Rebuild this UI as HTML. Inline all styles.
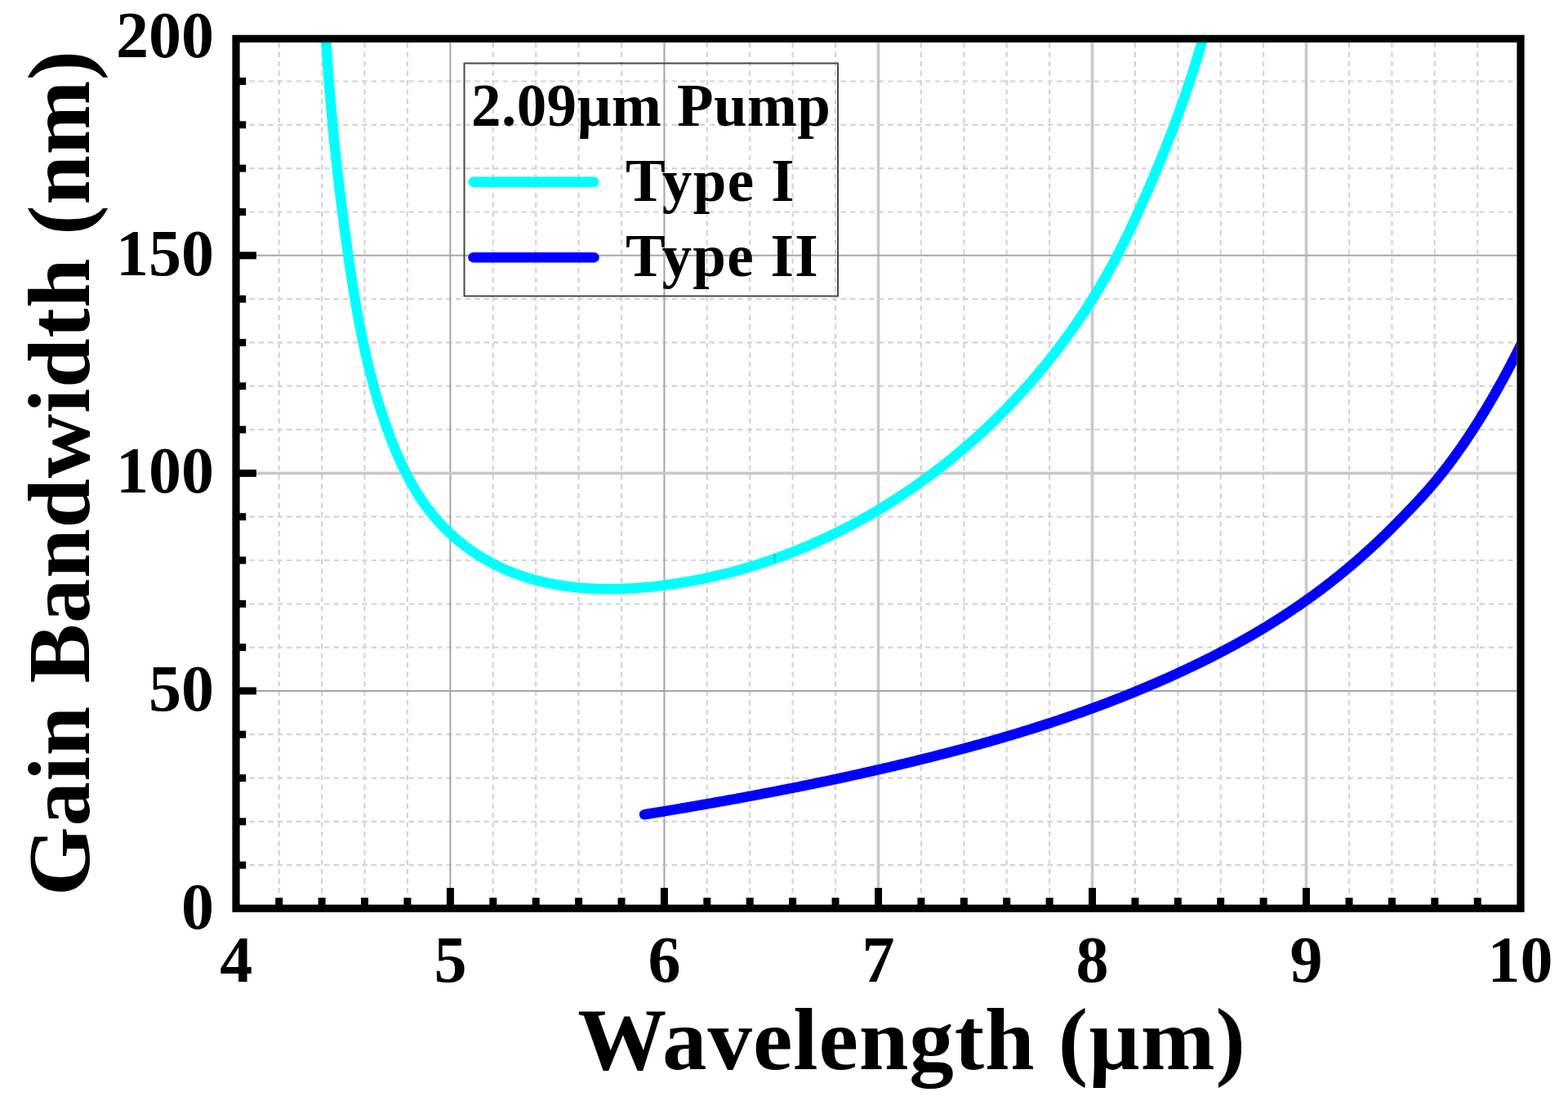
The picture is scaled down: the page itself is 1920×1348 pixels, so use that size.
<!DOCTYPE html>
<html><head><meta charset="utf-8"><style>
html,body{margin:0;padding:0;background:#fff;}
body{width:1920px;height:1348px;overflow:hidden;}
svg{display:block;}
text{font-family:"Liberation Serif","Times New Roman",serif;font-weight:bold;fill:#000;}
</style></head><body>
<svg width="1920" height="1348" viewBox="0 0 1920 1348">
<defs><clipPath id="pa"><rect x="293.6" y="52.0" width="1563.8" height="1055.6"/></clipPath></defs>
<rect width="1920" height="1348" fill="#fff"/>
<g stroke="#d4d4d4" stroke-width="2.2" stroke-dasharray="6.5 5">
<line x1="341.7" y1="52.0" x2="341.7" y2="1107.6"/>
<line x1="394.1" y1="52.0" x2="394.1" y2="1107.6"/>
<line x1="446.5" y1="52.0" x2="446.5" y2="1107.6"/>
<line x1="498.9" y1="52.0" x2="498.9" y2="1107.6"/>
<line x1="603.8" y1="52.0" x2="603.8" y2="1107.6"/>
<line x1="656.2" y1="52.0" x2="656.2" y2="1107.6"/>
<line x1="708.6" y1="52.0" x2="708.6" y2="1107.6"/>
<line x1="761.0" y1="52.0" x2="761.0" y2="1107.6"/>
<line x1="865.8" y1="52.0" x2="865.8" y2="1107.6"/>
<line x1="918.2" y1="52.0" x2="918.2" y2="1107.6"/>
<line x1="970.6" y1="52.0" x2="970.6" y2="1107.6"/>
<line x1="1023.0" y1="52.0" x2="1023.0" y2="1107.6"/>
<line x1="1127.9" y1="52.0" x2="1127.9" y2="1107.6"/>
<line x1="1180.3" y1="52.0" x2="1180.3" y2="1107.6"/>
<line x1="1232.7" y1="52.0" x2="1232.7" y2="1107.6"/>
<line x1="1285.1" y1="52.0" x2="1285.1" y2="1107.6"/>
<line x1="1389.9" y1="52.0" x2="1389.9" y2="1107.6"/>
<line x1="1442.3" y1="52.0" x2="1442.3" y2="1107.6"/>
<line x1="1494.7" y1="52.0" x2="1494.7" y2="1107.6"/>
<line x1="1547.1" y1="52.0" x2="1547.1" y2="1107.6"/>
<line x1="1652.0" y1="52.0" x2="1652.0" y2="1107.6"/>
<line x1="1704.4" y1="52.0" x2="1704.4" y2="1107.6"/>
<line x1="1756.8" y1="52.0" x2="1756.8" y2="1107.6"/>
<line x1="1809.2" y1="52.0" x2="1809.2" y2="1107.6"/>
<line x1="293.6" y1="1059.2" x2="1857.4" y2="1059.2"/>
<line x1="293.6" y1="1005.9" x2="1857.4" y2="1005.9"/>
<line x1="293.6" y1="952.6" x2="1857.4" y2="952.6"/>
<line x1="293.6" y1="899.2" x2="1857.4" y2="899.2"/>
<line x1="293.6" y1="792.6" x2="1857.4" y2="792.6"/>
<line x1="293.6" y1="739.3" x2="1857.4" y2="739.3"/>
<line x1="293.6" y1="686.0" x2="1857.4" y2="686.0"/>
<line x1="293.6" y1="632.7" x2="1857.4" y2="632.7"/>
<line x1="293.6" y1="526.0" x2="1857.4" y2="526.0"/>
<line x1="293.6" y1="472.7" x2="1857.4" y2="472.7"/>
<line x1="293.6" y1="419.4" x2="1857.4" y2="419.4"/>
<line x1="293.6" y1="366.1" x2="1857.4" y2="366.1"/>
<line x1="293.6" y1="259.5" x2="1857.4" y2="259.5"/>
<line x1="293.6" y1="206.1" x2="1857.4" y2="206.1"/>
<line x1="293.6" y1="152.8" x2="1857.4" y2="152.8"/>
<line x1="293.6" y1="99.5" x2="1857.4" y2="99.5"/>
</g>
<g>
<line x1="551.4" y1="52.0" x2="551.4" y2="1107.6" stroke="#a6a6a6" stroke-width="2"/>
<line x1="813.4" y1="52.0" x2="813.4" y2="1107.6" stroke="#a6a6a6" stroke-width="2"/>
<line x1="1075.5" y1="52.0" x2="1075.5" y2="1107.6" stroke="#c9c9c9" stroke-width="3.6"/>
<line x1="1337.5" y1="52.0" x2="1337.5" y2="1107.6" stroke="#c9c9c9" stroke-width="3.6"/>
<line x1="1599.5" y1="52.0" x2="1599.5" y2="1107.6" stroke="#c9c9c9" stroke-width="3.6"/>
<line x1="293.6" y1="845.9" x2="1857.4" y2="845.9" stroke="#a6a6a6" stroke-width="2"/>
<line x1="293.6" y1="579.4" x2="1857.4" y2="579.4" stroke="#c9c9c9" stroke-width="3.6"/>
<line x1="293.6" y1="312.8" x2="1857.4" y2="312.8" stroke="#a6a6a6" stroke-width="2"/>
</g>
<g clip-path="url(#pa)" fill="none" stroke-linejoin="round" stroke-linecap="round">
<path d="M397.1,10.0 L397.2,12.2 L397.3,14.4 L397.4,16.6 L397.5,18.8 L397.6,21.0 L397.7,23.3 L397.9,25.5 L398.0,27.7 L398.1,29.9 L398.2,32.1 L398.4,34.3 L398.5,36.5 L398.6,38.7 L398.7,40.9 L398.9,43.1 L399.0,45.3 L399.1,47.6 L399.3,49.8 L399.4,52.0 L399.6,54.2 L399.7,56.4 L399.8,58.6 L400.0,60.8 L400.1,63.0 L400.3,65.2 L400.4,67.4 L400.6,69.6 L400.7,71.9 L400.9,74.1 L401.0,76.3 L401.2,78.5 L401.3,80.7 L401.5,82.9 L401.7,85.1 L401.8,87.3 L402.0,89.5 L402.2,91.7 L402.3,93.9 L402.5,96.1 L402.7,98.3 L402.8,100.5 L403.0,102.7 L403.2,105.0 L403.4,107.2 L403.5,109.4 L403.7,111.6 L403.9,113.8 L404.1,116.0 L404.3,118.2 L404.4,120.4 L404.6,122.6 L404.8,124.8 L405.0,127.0 L405.2,129.2 L405.4,131.4 L405.6,133.6 L405.8,135.8 L406.0,138.0 L406.2,140.2 L406.4,142.4 L406.6,144.6 L406.8,146.8 L407.0,149.0 L407.2,151.2 L407.4,153.4 L407.6,155.6 L407.8,157.9 L408.0,160.1 L408.3,162.3 L408.5,164.5 L408.7,166.7 L408.9,168.9 L409.1,171.1 L409.3,173.3 L409.6,175.5 L409.8,177.7 L410.0,179.9 L410.2,182.1 L410.5,184.3 L410.7,186.5 L410.9,188.7 L411.2,190.9 L411.4,193.1 L411.6,195.3 L411.9,197.5 L412.1,199.7 L412.4,201.9 L412.6,204.1 L412.8,206.3 L413.1,208.5 L413.3,210.7 L413.6,212.9 L413.8,215.1 L414.1,217.3 L414.3,219.5 L414.6,221.7 L414.8,223.9 L415.1,226.0 L415.4,228.2 L415.6,230.4 L415.9,232.6 L416.1,234.8 L416.4,237.0 L416.7,239.2 L416.9,241.4 L417.2,243.6 L417.5,245.8 L417.7,248.0 L418.0,250.2 L418.3,252.4 L418.6,254.6 L418.8,256.8 L419.1,259.0 L419.4,261.2 L419.7,263.4 L420.0,265.6 L420.3,267.8 L420.5,270.0 L420.8,272.2 L421.1,274.3 L421.4,276.5 L421.7,278.7 L422.0,280.9 L422.3,283.1 L422.6,285.3 L422.9,287.5 L423.2,289.7 L423.5,291.9 L423.8,294.1 L424.1,296.3 L424.4,298.5 L424.7,300.6 L425.0,302.8 L425.3,305.0 L425.6,307.2 L425.9,309.4 L426.2,311.6 L426.6,313.8 L426.9,316.0 L427.2,318.2 L427.5,320.4 L427.8,322.5 L428.1,324.7 L428.5,326.9 L428.8,329.1 L429.1,331.3 L429.5,333.5 L429.8,335.7 L430.1,337.9 L430.5,340.0 L430.8,342.2 L431.1,344.4 L431.5,346.6 L431.8,348.8 L432.2,351.0 L432.5,353.2 L432.9,355.3 L433.2,357.5 L433.6,359.7 L433.9,361.9 L434.3,364.1 L434.7,366.2 L435.0,368.4 L435.4,370.6 L435.8,372.8 L436.2,375.0 L436.5,377.1 L436.9,379.3 L437.3,381.5 L437.7,383.7 L438.1,385.8 L438.5,388.0 L438.9,390.2 L439.3,392.4 L439.7,394.5 L440.1,396.7 L440.5,398.9 L441.0,401.0 L441.4,403.2 L441.8,405.4 L442.3,407.5 L442.7,409.7 L443.1,411.9 L443.6,414.0 L444.0,416.2 L444.5,418.4 L444.9,420.5 L445.4,422.7 L445.9,424.8 L446.3,427.0 L446.8,429.2 L447.3,431.3 L447.8,433.5 L448.3,435.6 L448.8,437.8 L449.3,439.9 L449.8,442.1 L450.3,444.2 L450.8,446.4 L451.3,448.5 L451.8,450.7 L452.4,452.8 L452.9,455.0 L453.5,457.1 L454.0,459.2 L454.6,461.4 L455.1,463.5 L455.7,465.7 L456.3,467.8 L456.8,469.9 L457.4,472.1 L458.0,474.2 L458.6,476.3 L459.2,478.5 L459.8,480.6 L460.4,482.7 L461.0,484.8 L461.7,487.0 L462.3,489.1 L462.9,491.2 L463.6,493.3 L464.2,495.4 L464.9,497.6 L465.5,499.7 L466.2,501.8 L466.9,503.9 L467.6,506.0 L468.3,508.1 L469.0,510.2 L469.7,512.3 L470.4,514.4 L471.1,516.5 L471.8,518.6 L472.6,520.7 L473.3,522.8 L474.1,524.9 L474.8,527.0 L475.6,529.1 L476.4,531.2 L477.1,533.3 L477.9,535.4 L478.7,537.5 L479.5,539.5 L480.3,541.6 L481.2,543.7 L482.0,545.8 L482.8,547.8 L483.7,549.9 L484.5,551.9 L485.4,554.0 L486.3,556.0 L487.2,558.1 L488.1,560.1 L489.0,562.2 L489.9,564.2 L490.8,566.2 L491.8,568.2 L492.7,570.3 L493.7,572.3 L494.7,574.3 L495.6,576.3 L496.6,578.2 L497.6,580.2 L498.7,582.2 L499.7,584.2 L500.7,586.1 L501.8,588.1 L502.9,590.0 L503.9,591.9 L505.0,593.9 L506.1,595.8 L507.3,597.7 L508.4,599.6 L509.5,601.5 L510.7,603.4 L511.9,605.2 L513.1,607.1 L514.3,609.0 L515.5,610.8 L516.7,612.6 L518.0,614.4 L519.2,616.3 L520.5,618.1 L521.8,619.8 L523.1,621.6 L524.4,623.4 L525.7,625.1 L527.1,626.9 L528.4,628.6 L529.8,630.3 L531.2,632.0 L532.6,633.7 L534.1,635.4 L535.5,637.1 L537.0,638.7 L538.5,640.3 L540.0,642.0 L541.5,643.6 L543.0,645.2 L544.6,646.7 L546.1,648.3 L547.7,649.9 L549.3,651.4 L550.9,652.9 L552.6,654.4 L554.2,655.9 L555.9,657.4 L557.5,658.9 L559.2,660.3 L560.9,661.7 L562.6,663.1 L564.4,664.5 L566.1,665.9 L567.9,667.3 L569.6,668.6 L571.4,670.0 L573.2,671.3 L575.0,672.6 L576.8,673.9 L578.6,675.1 L580.5,676.4 L582.3,677.6 L584.2,678.8 L586.1,680.0 L587.9,681.2 L589.8,682.3 L591.7,683.5 L593.6,684.6 L595.5,685.7 L597.5,686.8 L599.4,687.8 L601.3,688.9 L603.3,689.9 L605.2,690.9 L607.2,691.9 L609.2,692.9 L611.1,693.8 L613.1,694.8 L615.1,695.7 L617.1,696.6 L619.1,697.5 L621.1,698.3 L623.1,699.2 L625.2,700.0 L627.2,700.8 L629.2,701.6 L631.3,702.4 L633.3,703.1 L635.4,703.8 L637.4,704.6 L639.5,705.3 L641.6,706.0 L643.6,706.6 L645.7,707.3 L647.8,707.9 L649.9,708.5 L652.0,709.1 L654.1,709.7 L656.2,710.3 L658.3,710.8 L660.4,711.4 L662.5,711.9 L664.7,712.4 L666.8,712.9 L668.9,713.4 L671.1,713.8 L673.2,714.3 L675.4,714.7 L677.5,715.1 L679.7,715.5 L681.8,715.9 L684.0,716.3 L686.2,716.6 L688.3,716.9 L690.5,717.3 L692.7,717.6 L694.9,717.9 L697.0,718.2 L699.2,718.4 L701.4,718.7 L703.6,718.9 L705.8,719.2 L708.0,719.4 L710.2,719.6 L712.4,719.8 L714.6,719.9 L716.8,720.1 L719.0,720.3 L721.2,720.4 L723.5,720.5 L725.7,720.6 L727.9,720.7 L730.1,720.8 L732.3,720.9 L734.6,721.0 L736.8,721.0 L739.0,721.1 L741.2,721.1 L743.5,721.1 L745.7,721.1 L747.9,721.1 L750.2,721.1 L752.4,721.1 L754.6,721.0 L756.9,721.0 L759.1,720.9 L761.3,720.9 L763.6,720.8 L765.8,720.7 L768.0,720.6 L770.3,720.5 L772.5,720.4 L774.7,720.2 L777.0,720.1 L779.2,719.9 L781.4,719.8 L783.7,719.6 L785.9,719.4 L788.1,719.2 L790.4,719.0 L792.6,718.8 L794.8,718.6 L797.1,718.4 L799.3,718.2 L801.5,717.9 L803.8,717.7 L806.0,717.4 L808.2,717.2 L810.4,716.9 L812.6,716.6 L814.9,716.3 L817.1,716.0 L819.3,715.7 L821.5,715.4 L823.7,715.1 L825.9,714.8 L828.1,714.4 L830.3,714.1 L832.5,713.8 L834.7,713.4 L836.9,713.0 L839.1,712.7 L841.3,712.3 L843.5,711.9 L845.7,711.5 L847.9,711.1 L850.1,710.7 L852.3,710.3 L854.5,709.9 L856.7,709.4 L858.8,709.0 L861.0,708.6 L863.2,708.1 L865.4,707.6 L867.5,707.2 L869.7,706.7 L871.9,706.2 L874.0,705.7 L876.2,705.2 L878.4,704.7 L880.5,704.2 L882.7,703.7 L884.8,703.2 L887.0,702.7 L889.1,702.1 L891.3,701.6 L893.4,701.0 L895.6,700.5 L897.7,699.9 L899.8,699.3 L902.0,698.7 L904.1,698.1 L906.3,697.6 L908.4,697.0 L910.5,696.3 L912.6,695.7 L914.8,695.1 L916.9,694.5 L919.0,693.8 L921.1,693.2 L923.2,692.5 L925.3,691.9 L927.4,691.2 L929.6,690.5 L931.7,689.9 L933.8,689.2 L935.9,688.5 L938.0,687.8 L940.0,687.1 L942.1,686.4 L944.2,685.7 L946.3,684.9 L948.4,684.2 L950.5,683.5 L952.6,682.7 L954.6,682.0 L956.7,681.2 L958.8,680.4 L960.9,679.7 L962.9,678.9 L965.0,678.1 L967.0,677.3 L969.1,676.5 L971.2,675.7 L973.2,674.9 L975.3,674.1 L977.3,673.2 L979.3,672.4 L981.4,671.6 L983.4,670.7 L985.5,669.9 L987.5,669.0 L989.5,668.2 L991.6,667.3 L993.6,666.4 L995.6,665.5 L997.6,664.6 L999.6,663.7 L1001.7,662.8 L1003.7,661.9 L1005.7,661.0 L1007.7,660.1 L1009.7,659.2 L1011.7,658.2 L1013.7,657.3 L1015.7,656.3 L1017.7,655.4 L1019.6,654.4 L1021.6,653.5 L1023.6,652.5 L1025.6,651.5 L1027.6,650.5 L1029.5,649.6 L1031.5,648.6 L1033.5,647.6 L1035.4,646.6 L1037.4,645.5 L1039.4,644.5 L1041.3,643.5 L1043.3,642.5 L1045.2,641.4 L1047.2,640.4 L1049.1,639.3 L1051.0,638.3 L1053.0,637.2 L1054.9,636.2 L1056.8,635.1 L1058.8,634.0 L1060.7,632.9 L1062.6,631.8 L1064.5,630.7 L1066.4,629.6 L1068.3,628.5 L1070.3,627.4 L1072.2,626.3 L1074.1,625.2 L1076.0,624.0 L1077.8,622.9 L1079.7,621.8 L1081.6,620.6 L1083.5,619.5 L1085.4,618.3 L1087.3,617.1 L1089.1,616.0 L1091.0,614.8 L1092.9,613.6 L1094.7,612.4 L1096.6,611.2 L1098.5,610.0 L1100.3,608.8 L1102.2,607.6 L1104.0,606.4 L1105.8,605.2 L1107.7,604.0 L1109.5,602.7 L1111.4,601.5 L1113.2,600.3 L1115.0,599.0 L1116.8,597.8 L1118.6,596.5 L1120.5,595.2 L1122.3,594.0 L1124.1,592.7 L1125.9,591.4 L1127.7,590.1 L1129.5,588.8 L1131.3,587.5 L1133.1,586.2 L1134.8,584.9 L1136.6,583.6 L1138.4,582.3 L1140.2,581.0 L1141.9,579.7 L1143.7,578.3 L1145.5,577.0 L1147.2,575.7 L1149.0,574.3 L1150.7,573.0 L1152.5,571.6 L1154.2,570.2 L1156.0,568.9 L1157.7,567.5 L1159.4,566.1 L1161.2,564.8 L1162.9,563.4 L1164.6,562.0 L1166.3,560.6 L1168.0,559.2 L1169.7,557.8 L1171.4,556.4 L1173.1,554.9 L1174.8,553.5 L1176.5,552.1 L1178.2,550.7 L1179.9,549.2 L1181.6,547.8 L1183.3,546.3 L1184.9,544.9 L1186.6,543.4 L1188.3,542.0 L1189.9,540.5 L1191.6,539.0 L1193.2,537.6 L1194.9,536.1 L1196.5,534.6 L1198.2,533.1 L1199.8,531.6 L1201.4,530.1 L1203.1,528.6 L1204.7,527.1 L1206.3,525.6 L1207.9,524.1 L1209.5,522.6 L1211.1,521.1 L1212.7,519.5 L1214.3,518.0 L1215.9,516.5 L1217.5,514.9 L1219.1,513.4 L1220.7,511.8 L1222.3,510.3 L1223.8,508.7 L1225.4,507.1 L1227.0,505.6 L1228.5,504.0 L1230.1,502.4 L1231.6,500.8 L1233.2,499.3 L1234.7,497.7 L1236.3,496.1 L1237.8,494.5 L1239.3,492.9 L1240.8,491.3 L1242.4,489.7 L1243.9,488.0 L1245.4,486.4 L1246.9,484.8 L1248.4,483.2 L1249.9,481.5 L1251.4,479.9 L1252.9,478.3 L1254.4,476.6 L1255.8,475.0 L1257.3,473.3 L1258.8,471.7 L1260.2,470.0 L1261.7,468.3 L1263.2,466.7 L1264.6,465.0 L1266.1,463.3 L1267.5,461.6 L1268.9,460.0 L1270.4,458.3 L1271.8,456.6 L1273.2,454.9 L1274.6,453.2 L1276.0,451.5 L1277.5,449.8 L1278.9,448.1 L1280.3,446.3 L1281.6,444.6 L1283.0,442.9 L1284.4,441.2 L1285.8,439.4 L1287.2,437.7 L1288.5,436.0 L1289.9,434.2 L1291.3,432.5 L1292.6,430.7 L1294.0,429.0 L1295.3,427.2 L1296.7,425.5 L1298.0,423.7 L1299.3,421.9 L1300.7,420.2 L1302.0,418.4 L1303.3,416.6 L1304.6,414.8 L1305.9,413.0 L1307.2,411.3 L1308.5,409.5 L1309.8,407.7 L1311.1,405.9 L1312.4,404.1 L1313.6,402.3 L1314.9,400.4 L1316.2,398.6 L1317.4,396.8 L1318.7,395.0 L1319.9,393.2 L1321.2,391.3 L1322.4,389.5 L1323.7,387.7 L1324.9,385.8 L1326.1,384.0 L1327.3,382.2 L1328.5,380.3 L1329.8,378.5 L1331.0,376.6 L1332.2,374.8 L1333.3,372.9 L1334.5,371.0 L1335.7,369.2 L1336.9,367.3 L1338.1,365.4 L1339.2,363.5 L1340.4,361.7 L1341.6,359.8 L1342.7,357.9 L1343.8,356.0 L1345.0,354.1 L1346.1,352.2 L1347.3,350.3 L1348.4,348.4 L1349.5,346.5 L1350.6,344.6 L1351.7,342.7 L1352.8,340.8 L1353.9,338.9 L1355.0,336.9 L1356.1,335.0 L1357.2,333.1 L1358.2,331.1 L1359.3,329.2 L1360.4,327.3 L1361.4,325.3 L1362.5,323.4 L1363.5,321.5 L1364.6,319.5 L1365.6,317.6 L1366.6,315.6 L1367.7,313.6 L1368.7,311.7 L1369.7,309.7 L1370.7,307.8 L1371.7,305.8 L1372.7,303.8 L1373.7,301.8 L1374.7,299.9 L1375.7,297.9 L1376.7,295.9 L1377.6,293.9 L1378.6,291.9 L1379.6,289.9 L1380.5,287.9 L1381.5,286.0 L1382.4,284.0 L1383.4,282.0 L1384.3,280.0 L1385.3,278.0 L1386.2,276.0 L1387.1,274.0 L1388.1,272.0 L1389.0,269.9 L1389.9,267.9 L1390.8,265.9 L1391.8,263.9 L1392.7,261.9 L1393.6,259.9 L1394.5,257.9 L1395.4,255.9 L1396.3,253.8 L1397.2,251.8 L1398.1,249.8 L1399.0,247.8 L1399.9,245.8 L1400.8,243.7 L1401.7,241.7 L1402.6,239.7 L1403.5,237.7 L1404.4,235.6 L1405.3,233.6 L1406.2,231.6 L1407.0,229.5 L1407.9,227.5 L1408.8,225.5 L1409.7,223.4 L1410.5,221.4 L1411.4,219.4 L1412.3,217.3 L1413.1,215.3 L1414.0,213.2 L1414.9,211.2 L1415.7,209.2 L1416.6,207.1 L1417.4,205.1 L1418.3,203.0 L1419.1,201.0 L1419.9,198.9 L1420.8,196.9 L1421.6,194.8 L1422.4,192.8 L1423.3,190.7 L1424.1,188.7 L1424.9,186.6 L1425.8,184.6 L1426.6,182.5 L1427.4,180.4 L1428.2,178.4 L1429.0,176.3 L1429.8,174.3 L1430.6,172.2 L1431.4,170.1 L1432.2,168.1 L1433.0,166.0 L1433.8,163.9 L1434.6,161.9 L1435.4,159.8 L1436.2,157.7 L1437.0,155.7 L1437.7,153.6 L1438.5,151.5 L1439.3,149.4 L1440.1,147.4 L1440.8,145.3 L1441.6,143.2 L1442.4,141.1 L1443.1,139.1 L1443.9,137.0 L1444.6,134.9 L1445.4,132.8 L1446.1,130.7 L1446.9,128.6 L1447.6,126.6 L1448.3,124.5 L1449.1,122.4 L1449.8,120.3 L1450.5,118.2 L1451.3,116.1 L1452.0,114.0 L1452.7,111.9 L1453.4,109.8 L1454.1,107.8 L1454.8,105.7 L1455.5,103.6 L1456.2,101.5 L1456.9,99.4 L1457.6,97.3 L1458.3,95.2 L1459.0,93.1 L1459.7,91.0 L1460.4,88.9 L1461.1,86.8 L1461.7,84.7 L1462.4,82.6 L1463.1,80.4 L1463.7,78.3 L1464.4,76.2 L1465.0,74.1 L1465.7,72.0 L1466.3,69.9 L1467.0,67.8 L1467.6,65.7 L1468.2,63.5 L1468.9,61.4 L1469.5,59.3 L1470.1,57.2 L1470.7,55.1 L1471.3,52.9 L1471.9,50.8 L1472.5,48.7 L1473.1,46.6 L1473.7,44.4 L1474.3,42.3 L1474.8,40.2 L1475.4,38.0 L1476.0,35.9 L1476.5,33.8 L1477.1,31.6 L1477.6,29.5 L1478.2,27.3 L1478.7,25.2 L1479.2,23.0 L1479.8,20.9 L1480.3,18.7 L1480.8,16.6 L1481.3,14.4 L1481.8,12.3 L1482.3,10.1" stroke="#00ffff" stroke-width="12.5"/>
<path d="M789.0,997.3 L790.5,997.0 L792.1,996.8 L793.6,996.5 L795.2,996.3 L796.7,996.0 L798.3,995.8 L799.8,995.5 L801.4,995.3 L802.9,995.0 L804.5,994.7 L806.0,994.5 L807.6,994.2 L809.1,994.0 L810.7,993.7 L812.2,993.5 L813.8,993.2 L815.3,992.9 L816.9,992.7 L818.4,992.4 L820.0,992.2 L821.5,991.9 L823.1,991.6 L824.6,991.4 L826.2,991.1 L827.7,990.9 L829.3,990.6 L830.8,990.3 L832.4,990.1 L833.9,989.8 L835.5,989.5 L837.0,989.3 L838.6,989.0 L840.1,988.8 L841.7,988.5 L843.2,988.2 L844.8,988.0 L846.3,987.7 L847.9,987.4 L849.4,987.2 L851.0,986.9 L852.5,986.6 L854.1,986.3 L855.6,986.1 L857.2,985.8 L858.7,985.5 L860.3,985.3 L861.8,985.0 L863.4,984.7 L864.9,984.5 L866.5,984.2 L868.0,983.9 L869.6,983.6 L871.1,983.4 L872.7,983.1 L874.2,982.8 L875.8,982.5 L877.3,982.3 L878.9,982.0 L880.4,981.7 L882.0,981.4 L883.5,981.2 L885.1,980.9 L886.6,980.6 L888.2,980.3 L889.7,980.0 L891.3,979.8 L892.8,979.5 L894.4,979.2 L895.9,978.9 L897.5,978.6 L899.0,978.4 L900.6,978.1 L902.1,977.8 L903.7,977.5 L905.2,977.2 L906.8,976.9 L908.3,976.7 L909.8,976.4 L911.4,976.1 L912.9,975.8 L914.5,975.5 L916.0,975.2 L917.6,974.9 L919.1,974.6 L920.7,974.4 L922.2,974.1 L923.8,973.8 L925.3,973.5 L926.9,973.2 L928.4,972.9 L930.0,972.6 L931.5,972.3 L933.1,972.0 L934.6,971.7 L936.2,971.4 L937.7,971.1 L939.3,970.8 L940.8,970.5 L942.4,970.2 L943.9,969.9 L945.5,969.6 L947.0,969.4 L948.6,969.1 L950.1,968.8 L951.7,968.5 L953.2,968.1 L954.8,967.8 L956.3,967.5 L957.9,967.2 L959.4,966.9 L961.0,966.6 L962.5,966.3 L964.1,966.0 L965.6,965.7 L967.2,965.4 L968.7,965.1 L970.3,964.8 L971.8,964.5 L973.4,964.2 L974.9,963.9 L976.5,963.6 L978.0,963.3 L979.6,962.9 L981.1,962.6 L982.7,962.3 L984.2,962.0 L985.8,961.7 L987.3,961.4 L988.9,961.1 L990.4,960.7 L992.0,960.4 L993.5,960.1 L995.1,959.8 L996.6,959.5 L998.2,959.2 L999.7,958.8 L1001.3,958.5 L1002.8,958.2 L1004.4,957.9 L1005.9,957.5 L1007.5,957.2 L1009.0,956.9 L1010.6,956.6 L1012.1,956.3 L1013.7,955.9 L1015.2,955.6 L1016.8,955.3 L1018.3,954.9 L1019.9,954.6 L1021.4,954.3 L1023.0,954.0 L1024.5,953.6 L1026.1,953.3 L1027.6,953.0 L1029.2,952.6 L1030.7,952.3 L1032.2,952.0 L1033.8,951.6 L1035.3,951.3 L1036.9,951.0 L1038.4,950.6 L1040.0,950.3 L1041.5,949.9 L1043.1,949.6 L1044.6,949.3 L1046.2,948.9 L1047.7,948.6 L1049.3,948.2 L1050.8,947.9 L1052.4,947.6 L1053.9,947.2 L1055.5,946.9 L1057.0,946.5 L1058.6,946.2 L1060.1,945.8 L1061.7,945.5 L1063.2,945.1 L1064.8,944.8 L1066.3,944.4 L1067.9,944.1 L1069.4,943.7 L1071.0,943.4 L1072.5,943.0 L1074.1,942.7 L1075.6,942.3 L1077.2,942.0 L1078.7,941.6 L1080.3,941.3 L1081.8,940.9 L1083.4,940.5 L1084.9,940.2 L1086.5,939.8 L1088.0,939.5 L1089.6,939.1 L1091.1,938.7 L1092.7,938.4 L1094.2,938.0 L1095.8,937.6 L1097.3,937.3 L1098.9,936.9 L1100.4,936.5 L1102.0,936.2 L1103.5,935.8 L1105.1,935.4 L1106.6,935.1 L1108.2,934.7 L1109.7,934.3 L1111.3,933.9 L1112.8,933.6 L1114.4,933.2 L1115.9,932.8 L1117.5,932.4 L1119.0,932.1 L1120.6,931.7 L1122.1,931.3 L1123.7,930.9 L1125.2,930.5 L1126.8,930.2 L1128.3,929.8 L1129.9,929.4 L1131.4,929.0 L1133.0,928.6 L1134.5,928.2 L1136.1,927.9 L1137.6,927.5 L1139.2,927.1 L1140.7,926.7 L1142.3,926.3 L1143.8,925.9 L1145.4,925.5 L1146.9,925.1 L1148.5,924.7 L1150.0,924.3 L1151.5,923.9 L1153.1,923.5 L1154.6,923.2 L1156.2,922.8 L1157.7,922.4 L1159.3,922.0 L1160.8,921.5 L1162.4,921.1 L1163.9,920.7 L1165.5,920.3 L1167.0,919.9 L1168.6,919.5 L1170.1,919.1 L1171.7,918.7 L1173.2,918.3 L1174.8,917.9 L1176.3,917.5 L1177.9,917.1 L1179.4,916.6 L1181.0,916.2 L1182.5,915.8 L1184.1,915.4 L1185.6,915.0 L1187.2,914.6 L1188.7,914.1 L1190.3,913.7 L1191.8,913.3 L1193.4,912.9 L1194.9,912.4 L1196.5,912.0 L1198.0,911.6 L1199.6,911.2 L1201.1,910.7 L1202.7,910.3 L1204.2,909.9 L1205.8,909.4 L1207.3,909.0 L1208.9,908.6 L1210.4,908.1 L1212.0,907.7 L1213.5,907.2 L1215.1,906.8 L1216.6,906.4 L1218.2,905.9 L1219.7,905.5 L1221.3,905.0 L1222.8,904.6 L1224.4,904.1 L1225.9,903.7 L1227.5,903.2 L1229.0,902.8 L1230.6,902.3 L1232.1,901.8 L1233.7,901.4 L1235.2,900.9 L1236.8,900.5 L1238.3,900.0 L1239.9,899.5 L1241.4,899.1 L1243.0,898.6 L1244.5,898.1 L1246.1,897.7 L1247.6,897.2 L1249.2,896.7 L1250.7,896.3 L1252.3,895.8 L1253.8,895.3 L1255.4,894.8 L1256.9,894.4 L1258.5,893.9 L1260.0,893.4 L1261.6,892.9 L1263.1,892.4 L1264.7,891.9 L1266.2,891.5 L1267.8,891.0 L1269.3,890.5 L1270.8,890.0 L1272.4,889.5 L1273.9,889.0 L1275.5,888.5 L1277.0,888.0 L1278.6,887.5 L1280.1,887.0 L1281.7,886.5 L1283.2,886.0 L1284.8,885.5 L1286.3,885.0 L1287.9,884.5 L1289.4,883.9 L1291.0,883.4 L1292.5,882.9 L1294.1,882.4 L1295.6,881.9 L1297.2,881.4 L1298.7,880.8 L1300.3,880.3 L1301.8,879.8 L1303.4,879.3 L1304.9,878.7 L1306.5,878.2 L1308.0,877.7 L1309.6,877.1 L1311.1,876.6 L1312.7,876.1 L1314.2,875.5 L1315.8,875.0 L1317.3,874.4 L1318.9,873.9 L1320.4,873.4 L1322.0,872.8 L1323.5,872.3 L1325.1,871.7 L1326.6,871.2 L1328.2,870.6 L1329.7,870.0 L1331.3,869.5 L1332.8,868.9 L1334.4,868.4 L1335.9,867.8 L1337.5,867.2 L1339.0,866.7 L1340.6,866.1 L1342.1,865.5 L1343.7,864.9 L1345.2,864.4 L1346.8,863.8 L1348.3,863.2 L1349.9,862.6 L1351.4,862.1 L1353.0,861.5 L1354.5,860.9 L1356.1,860.3 L1357.6,859.7 L1359.2,859.1 L1360.7,858.5 L1362.3,857.9 L1363.8,857.3 L1365.4,856.7 L1366.9,856.1 L1368.5,855.5 L1370.0,854.9 L1371.6,854.3 L1373.1,853.7 L1374.7,853.1 L1376.2,852.5 L1377.8,851.8 L1379.3,851.2 L1380.9,850.6 L1382.4,850.0 L1384.0,849.3 L1385.5,848.7 L1387.1,848.1 L1388.6,847.5 L1390.2,846.8 L1391.7,846.2 L1393.2,845.5 L1394.8,844.9 L1396.3,844.3 L1397.9,843.6 L1399.4,843.0 L1401.0,842.3 L1402.5,841.7 L1404.1,841.0 L1405.6,840.4 L1407.2,839.7 L1408.7,839.0 L1410.3,838.4 L1411.8,837.7 L1413.4,837.1 L1414.9,836.4 L1416.5,835.7 L1418.0,835.0 L1419.6,834.4 L1421.1,833.7 L1422.7,833.0 L1424.2,832.3 L1425.8,831.6 L1427.3,831.0 L1428.9,830.3 L1430.4,829.6 L1432.0,828.9 L1433.5,828.2 L1435.1,827.5 L1436.6,826.8 L1438.2,826.1 L1439.7,825.4 L1441.3,824.7 L1442.8,824.0 L1444.4,823.2 L1445.9,822.5 L1447.5,821.8 L1449.0,821.1 L1450.6,820.4 L1452.1,819.6 L1453.7,818.9 L1455.2,818.2 L1456.8,817.4 L1458.3,816.7 L1459.9,816.0 L1461.4,815.2 L1463.0,814.5 L1464.5,813.7 L1466.1,813.0 L1467.6,812.2 L1469.2,811.5 L1470.7,810.7 L1472.3,810.0 L1473.8,809.2 L1475.4,808.4 L1476.9,807.7 L1478.5,806.9 L1480.0,806.1 L1481.6,805.3 L1483.1,804.6 L1484.7,803.8 L1486.2,803.0 L1487.8,802.2 L1489.3,801.4 L1490.9,800.6 L1492.4,799.8 L1494.0,799.0 L1495.5,798.2 L1497.1,797.4 L1498.6,796.6 L1500.2,795.8 L1501.7,794.9 L1503.3,794.1 L1504.8,793.3 L1506.4,792.4 L1507.9,791.6 L1509.5,790.8 L1511.0,789.9 L1512.5,789.1 L1514.1,788.2 L1515.6,787.4 L1517.2,786.5 L1518.7,785.7 L1520.3,784.8 L1521.8,783.9 L1523.4,783.1 L1524.9,782.2 L1526.5,781.3 L1528.0,780.4 L1529.6,779.5 L1531.1,778.7 L1532.7,777.8 L1534.2,776.9 L1535.8,776.0 L1537.3,775.1 L1538.9,774.1 L1540.4,773.2 L1542.0,772.3 L1543.5,771.4 L1545.1,770.5 L1546.6,769.5 L1548.2,768.6 L1549.7,767.7 L1551.3,766.7 L1552.8,765.8 L1554.4,764.8 L1555.9,763.9 L1557.5,762.9 L1559.0,761.9 L1560.6,761.0 L1562.1,760.0 L1563.7,759.0 L1565.2,758.0 L1566.8,757.0 L1568.3,756.0 L1569.9,755.0 L1571.4,754.0 L1573.0,753.0 L1574.5,752.0 L1576.1,751.0 L1577.6,750.0 L1579.2,749.0 L1580.7,747.9 L1582.3,746.9 L1583.8,745.8 L1585.4,744.8 L1586.9,743.7 L1588.5,742.7 L1590.0,741.6 L1591.6,740.6 L1593.1,739.5 L1594.7,738.4 L1596.2,737.3 L1597.8,736.2 L1599.3,735.1 L1600.9,734.0 L1602.4,732.9 L1604.0,731.8 L1605.5,730.7 L1607.1,729.6 L1608.6,728.5 L1610.2,727.3 L1611.7,726.2 L1613.3,725.0 L1614.8,723.9 L1616.4,722.7 L1617.9,721.6 L1619.5,720.4 L1621.0,719.2 L1622.6,718.0 L1624.1,716.9 L1625.7,715.7 L1627.2,714.5 L1628.8,713.3 L1630.3,712.1 L1631.8,710.8 L1633.4,709.6 L1634.9,708.4 L1636.5,707.1 L1638.0,705.9 L1639.6,704.7 L1641.1,703.4 L1642.7,702.1 L1644.2,700.9 L1645.8,699.6 L1647.3,698.3 L1648.9,697.0 L1650.4,695.7 L1652.0,694.4 L1653.5,693.1 L1655.1,691.8 L1656.6,690.5 L1658.2,689.2 L1659.7,687.8 L1661.3,686.5 L1662.8,685.2 L1664.4,683.8 L1665.9,682.4 L1667.5,681.1 L1669.0,679.7 L1670.6,678.3 L1672.1,676.9 L1673.7,675.5 L1675.2,674.1 L1676.8,672.7 L1678.3,671.3 L1679.9,669.9 L1681.4,668.4 L1683.0,667.0 L1684.5,665.6 L1686.1,664.1 L1687.6,662.6 L1689.2,661.2 L1690.7,659.7 L1692.3,658.2 L1693.8,656.7 L1695.4,655.2 L1696.9,653.7 L1698.5,652.2 L1700.0,650.7 L1701.6,649.1 L1703.1,647.6 L1704.7,646.1 L1706.2,644.5 L1707.8,642.9 L1709.3,641.4 L1710.9,639.8 L1712.4,638.2 L1714.0,636.6 L1715.5,635.1 L1717.1,633.5 L1718.6,631.9 L1720.2,630.3 L1721.7,628.7 L1723.3,627.1 L1724.8,625.5 L1726.4,623.9 L1727.9,622.3 L1729.5,620.7 L1731.0,619.0 L1732.6,617.4 L1734.1,615.7 L1735.7,614.1 L1737.2,612.4 L1738.8,610.8 L1740.3,609.1 L1741.9,607.4 L1743.4,605.7 L1745.0,603.9 L1746.5,602.2 L1748.1,600.5 L1749.6,598.7 L1751.2,596.9 L1752.7,595.1 L1754.2,593.3 L1755.8,591.5 L1757.3,589.6 L1758.9,587.8 L1760.4,585.9 L1762.0,584.0 L1763.5,582.1 L1765.1,580.1 L1766.6,578.2 L1768.2,576.2 L1769.7,574.2 L1771.3,572.2 L1772.8,570.2 L1774.4,568.1 L1775.9,566.1 L1777.5,564.0 L1779.0,561.9 L1780.6,559.8 L1782.1,557.6 L1783.7,555.5 L1785.2,553.3 L1786.8,551.1 L1788.3,548.9 L1789.9,546.7 L1791.4,544.4 L1793.0,542.2 L1794.5,539.9 L1796.1,537.6 L1797.6,535.3 L1799.2,533.0 L1800.7,530.6 L1802.3,528.2 L1803.8,525.9 L1805.4,523.5 L1806.9,521.0 L1808.5,518.6 L1810.0,516.2 L1811.6,513.7 L1813.1,511.2 L1814.7,508.7 L1816.2,506.2 L1817.8,503.6 L1819.3,501.1 L1820.9,498.5 L1822.4,495.9 L1824.0,493.2 L1825.5,490.6 L1827.1,488.0 L1828.6,485.3 L1830.2,482.6 L1831.7,479.9 L1833.3,477.1 L1834.8,474.4 L1836.4,471.6 L1837.9,468.8 L1839.5,466.0 L1841.0,463.2 L1842.6,460.3 L1844.1,457.4 L1845.7,454.5 L1847.2,451.6 L1848.8,448.7 L1850.3,445.7 L1851.9,442.7 L1853.4,439.7 L1855.0,436.7 L1856.5,433.7 L1858.1,430.6 L1859.6,427.5 L1861.2,424.4 L1862.7,421.3 L1864.3,418.2 L1865.8,415.0 L1867.4,411.8 L1868.9,408.6 L1870.5,405.3 L1872.0,402.1" stroke="#0000ff" stroke-width="12.5"/>
</g>
<path d="M946.5,679.8 L948.8,679.8 L948.8,689.2" fill="none" stroke="#12b4b4" stroke-width="1.6" opacity="0.8"/>
<g stroke="#000" stroke-width="9">
<line x1="341.7" y1="1112.2" x2="341.7" y2="1099.2"/>
<line x1="394.1" y1="1112.2" x2="394.1" y2="1099.2"/>
<line x1="446.5" y1="1112.2" x2="446.5" y2="1099.2"/>
<line x1="498.9" y1="1112.2" x2="498.9" y2="1099.2"/>
<line x1="551.4" y1="1112.2" x2="551.4" y2="1087.1"/>
<line x1="603.8" y1="1112.2" x2="603.8" y2="1099.2"/>
<line x1="656.2" y1="1112.2" x2="656.2" y2="1099.2"/>
<line x1="708.6" y1="1112.2" x2="708.6" y2="1099.2"/>
<line x1="761.0" y1="1112.2" x2="761.0" y2="1099.2"/>
<line x1="813.4" y1="1112.2" x2="813.4" y2="1087.1"/>
<line x1="865.8" y1="1112.2" x2="865.8" y2="1099.2"/>
<line x1="918.2" y1="1112.2" x2="918.2" y2="1099.2"/>
<line x1="970.6" y1="1112.2" x2="970.6" y2="1099.2"/>
<line x1="1023.0" y1="1112.2" x2="1023.0" y2="1099.2"/>
<line x1="1075.5" y1="1112.2" x2="1075.5" y2="1087.1"/>
<line x1="1127.9" y1="1112.2" x2="1127.9" y2="1099.2"/>
<line x1="1180.3" y1="1112.2" x2="1180.3" y2="1099.2"/>
<line x1="1232.7" y1="1112.2" x2="1232.7" y2="1099.2"/>
<line x1="1285.1" y1="1112.2" x2="1285.1" y2="1099.2"/>
<line x1="1337.5" y1="1112.2" x2="1337.5" y2="1087.1"/>
<line x1="1389.9" y1="1112.2" x2="1389.9" y2="1099.2"/>
<line x1="1442.3" y1="1112.2" x2="1442.3" y2="1099.2"/>
<line x1="1494.7" y1="1112.2" x2="1494.7" y2="1099.2"/>
<line x1="1547.1" y1="1112.2" x2="1547.1" y2="1099.2"/>
<line x1="1599.5" y1="1112.2" x2="1599.5" y2="1087.1"/>
<line x1="1652.0" y1="1112.2" x2="1652.0" y2="1099.2"/>
<line x1="1704.4" y1="1112.2" x2="1704.4" y2="1099.2"/>
<line x1="1756.8" y1="1112.2" x2="1756.8" y2="1099.2"/>
<line x1="1809.2" y1="1112.2" x2="1809.2" y2="1099.2"/>
<line x1="289.0" y1="1059.2" x2="301.2" y2="1059.2"/>
<line x1="289.0" y1="1005.9" x2="301.2" y2="1005.9"/>
<line x1="289.0" y1="952.6" x2="301.2" y2="952.6"/>
<line x1="289.0" y1="899.2" x2="301.2" y2="899.2"/>
<line x1="289.0" y1="845.9" x2="313.9" y2="845.9"/>
<line x1="289.0" y1="792.6" x2="301.2" y2="792.6"/>
<line x1="289.0" y1="739.3" x2="301.2" y2="739.3"/>
<line x1="289.0" y1="686.0" x2="301.2" y2="686.0"/>
<line x1="289.0" y1="632.7" x2="301.2" y2="632.7"/>
<line x1="289.0" y1="579.4" x2="313.9" y2="579.4"/>
<line x1="289.0" y1="526.0" x2="301.2" y2="526.0"/>
<line x1="289.0" y1="472.7" x2="301.2" y2="472.7"/>
<line x1="289.0" y1="419.4" x2="301.2" y2="419.4"/>
<line x1="289.0" y1="366.1" x2="301.2" y2="366.1"/>
<line x1="289.0" y1="312.8" x2="313.9" y2="312.8"/>
<line x1="289.0" y1="259.5" x2="301.2" y2="259.5"/>
<line x1="289.0" y1="206.1" x2="301.2" y2="206.1"/>
<line x1="289.0" y1="152.8" x2="301.2" y2="152.8"/>
<line x1="289.0" y1="99.5" x2="301.2" y2="99.5"/>
</g>
<rect x="289.0" y="47.4" width="1573.0" height="1064.8" fill="none" stroke="#000" stroke-width="9.2"/>
<g font-size="80">
<text x="289.3" y="1202" text-anchor="middle">4</text>
<text x="551.4" y="1202" text-anchor="middle">5</text>
<text x="813.4" y="1202" text-anchor="middle">6</text>
<text x="1075.5" y="1202" text-anchor="middle">7</text>
<text x="1337.5" y="1202" text-anchor="middle">8</text>
<text x="1599.5" y="1202" text-anchor="middle">9</text>
<text x="1861.6" y="1202" text-anchor="middle">10</text>
<text x="262" y="1136.5" text-anchor="end">0</text>
<text x="262" y="869.9" text-anchor="end">50</text>
<text x="262" y="603.4" text-anchor="end">100</text>
<text x="262" y="336.8" text-anchor="end">150</text>
<text x="262" y="70.2" text-anchor="end">200</text>
</g>
<text x="0" y="0" font-size="109" textLength="1035.1952999999999" lengthAdjust="spacing" transform="translate(108.5,1097) rotate(-90)">Gain Bandwidth (nm)</text>
<text x="707.2" y="1309" font-size="109" textLength="817.5181" lengthAdjust="spacing">Wavelength (µm)</text>
<rect x="568.5" y="77.5" width="457.5" height="285" fill="none" stroke="#474747" stroke-width="2"/>
<g font-size="73">
<text x="577" y="154" textLength="439.9742" lengthAdjust="spacing">2.09µm Pump</text>
<text x="766" y="246" textLength="206.62869999999998" lengthAdjust="spacing">Type I</text>
<text x="766" y="337.5" textLength="235.64030000000002" lengthAdjust="spacing">Type II</text>
</g>
<line x1="579.5" y1="222.8" x2="727.5" y2="222.8" stroke="#00ffff" stroke-width="12.5" stroke-linecap="round"/>
<line x1="579.5" y1="315.2" x2="727.5" y2="315.2" stroke="#0000ff" stroke-width="12.5" stroke-linecap="round"/>
</svg>
</body></html>
